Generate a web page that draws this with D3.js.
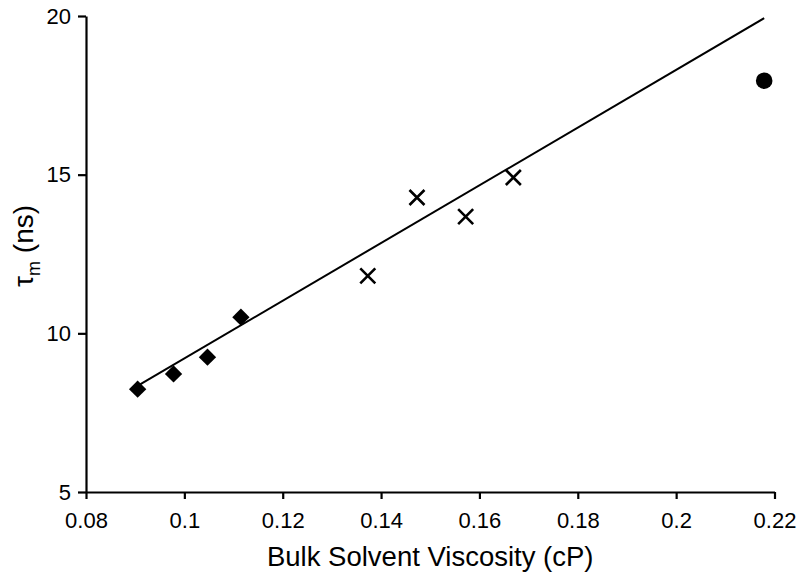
<!DOCTYPE html>
<html>
<head>
<meta charset="utf-8">
<script src="https://cdn.jsdelivr.net/npm/d3@7"></script>
<style>
  body { margin: 0; background: #fff; }
  svg { display: block; font-family: "Liberation Sans", Arial, sans-serif; }
</style>
</head>
<body>
<div id="chart"></div>
<script>
// viscosity (cP) vs tau_m (ns), three solvent groups
const diamondX = [0.0905, 0.0978, 0.1047, 0.1115];
const diamondY = [8.24, 8.72, 9.25, 10.51];
const crossX = [0.1373, 0.1473, 0.1572, 0.1669];
const crossY = [11.81, 14.28, 13.68, 14.91];
const circleX = [0.2179];
const circleY = [17.96];

// linear fit, end points
const fitX = [0.0910, 0.2179];
const fitY = [8.39, 19.93];

const xTicks = [0.08, 0.1, 0.12, 0.14, 0.16, 0.18, 0.2, 0.22];
const yTicks = [5, 10, 15, 20];

var cfg = {
  width: 800,
  height: 582,
  margin: {top: 16, right: 25.5, bottom: 90, left: 86}
};

var scale = {
  x: d3.scaleLinear()
    .domain([0.08, 0.22])
    .range([cfg.margin.left, cfg.width - cfg.margin.right]),
  y: d3.scaleLinear()
    .domain([5, 20])
    .range([cfg.height - cfg.margin.bottom, cfg.margin.top])
};

var svg = d3.select("#chart").append("svg")
  .attr("width", cfg.width)
  .attr("height", cfg.height);

// x axis
var xAxis = svg.append("g")
  .attr("transform", `translate(0, ${cfg.height - cfg.margin.bottom})`)
  .call(d3.axisBottom(scale.x)
    .tickValues(xTicks)
    .tickFormat(d => d3.format("")(+d.toFixed(2)))
    .tickSize(7)
    .tickSizeOuter(0)
    .tickPadding(13));

// y axis
var yAxis = svg.append("g")
  .attr("transform", `translate(${cfg.margin.left}, 0)`)
  .call(d3.axisLeft(scale.y)
    .tickValues(yTicks)
    .tickSize(8)
    .tickSizeOuter(0)
    .tickPadding(7));

[xAxis, yAxis].forEach(a => {
  a.select(".domain").attr("stroke", "#000").attr("stroke-width", 2.2);
  a.selectAll(".tick line").attr("stroke", "#000").attr("stroke-width", 2.2);
  a.selectAll(".tick text")
    .attr("fill", "#000")
    .style("font-size", "22px")
    .style("font-family", "Liberation Sans, Arial, sans-serif");
});

// axis titles
svg.append("text")
  .attr("x", (cfg.margin.left + cfg.width - cfg.margin.right) / 2)
  .attr("y", 566)
  .attr("text-anchor", "middle")
  .style("font-size", "27.5px")
  .text("Bulk Solvent Viscosity (cP)");

var yTitle = svg.append("text")
  .attr("transform", "translate(33, 246) rotate(-90)")
  .attr("text-anchor", "middle")
  .style("font-size", "28px");
yTitle.append("tspan").text("τ");
yTitle.append("tspan").attr("dy", 7).style("font-size", "18px").text("m");
yTitle.append("tspan").attr("dy", -7).text(" (ns)");

// fit line
svg.append("path")
  .datum(fitX.map((x, i) => ({x: x, y: fitY[i]})))
  .attr("d", d3.line().x(d => scale.x(d.x)).y(d => scale.y(d.y)))
  .attr("fill", "none")
  .attr("stroke", "#000")
  .attr("stroke-width", 2);

// diamonds
svg.append("g").selectAll("path")
  .data(diamondX.map((x, i) => ({x: x, y: diamondY[i]})))
  .enter().append("path")
  .attr("d", d3.symbol().type(d3.symbolSquare).size(150))
  .attr("transform", d => `translate(${scale.x(d.x)},${scale.y(d.y)}) rotate(45)`)
  .attr("fill", "#000");

// crosses
var symX = {
  draw: function(context, size) {
    var r = Math.sqrt(size) / 2;
    context.moveTo(-r, -r); context.lineTo(r, r);
    context.moveTo(-r, r); context.lineTo(r, -r);
  }
};
svg.append("g").selectAll("path")
  .data(crossX.map((x, i) => ({x: x, y: crossY[i]})))
  .enter().append("path")
  .attr("d", d3.symbol().type(symX).size(225))
  .attr("transform", d => `translate(${scale.x(d.x)},${scale.y(d.y)})`)
  .attr("fill", "none")
  .attr("stroke", "#000")
  .attr("stroke-width", 2.6);

// circle
svg.append("g").selectAll("circle")
  .data(circleX.map((x, i) => ({x: x, y: circleY[i]})))
  .enter().append("circle")
  .attr("cx", d => scale.x(d.x))
  .attr("cy", d => scale.y(d.y))
  .attr("r", 8.3)
  .attr("fill", "#000");
</script>
</body>
</html>
